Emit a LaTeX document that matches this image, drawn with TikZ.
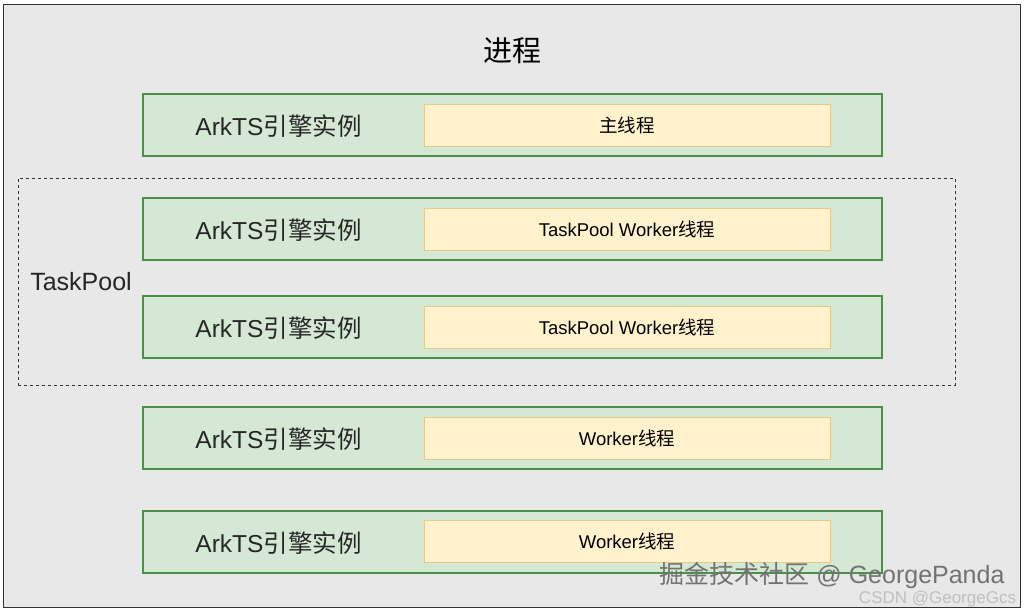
\documentclass[tikz,border=0pt]{standalone}
\usepackage{fontspec}
\setmainfont{Liberation Sans}
\newfontfamily\cjk{Noto Sans CJK SC}
\definecolor{procfill}{HTML}{E8E8E8}
\definecolor{procline}{HTML}{333333}
\definecolor{engfill}{HTML}{D5E8D4}
\definecolor{engline}{HTML}{4A9049}
\definecolor{thrfill}{HTML}{FFF2CC}
\definecolor{thrline}{HTML}{E8C98A}
\begin{document}
\begin{tikzpicture}[x=1pt, y=-1pt, inner sep=0pt,
  proc/.style = {draw=procline, fill=procfill, line width=1pt, minimum width=1017pt, minimum height=603pt},
  pool/.style = {draw=procline, dashed, line width=0.9pt, minimum width=937pt, minimum height=207pt},
  engine/.style = {draw=engline, fill=engfill, line width=1.2pt, minimum width=739pt, minimum height=62pt},
  thread/.style = {draw=thrline, fill=thrfill, line width=0.8pt, minimum width=406pt, minimum height=42pt, font=\fontsize{18.5}{20}\selectfont},
  engtext/.style = {font=\fontsize{24.5}{28}\selectfont, text=black!85}]
\useasboundingbox (0,0) rectangle (1024,611);

\node[proc] (p) at (511.5,306) {};
\node[font=\cjk\fontsize{29}{32}\selectfont] (title) at (512,51) {进程};
\node[pool] (tp) at (486.5,281.5) {};
\node[font=\fontsize{25}{28}\selectfont, text=black!85] (tplabel) at (81,282) {TaskPool};

\node[engine] (e1) at (512.5,125) {};
\node[engtext] (l1) at (278.5,126) {ArkTS{\cjk 引擎实例}};
\node[thread] (t1) at (627,125) {{\cjk 主线程}};

\node[engine] (e2) at (512.5,229) {};
\node[engtext] (l2) at (278.5,230) {ArkTS{\cjk 引擎实例}};
\node[thread] (t2) at (627,229) {TaskPool Worker{\cjk 线程}};

\node[engine] (e3) at (512.5,327) {};
\node[engtext] (l3) at (278.5,328) {ArkTS{\cjk 引擎实例}};
\node[thread] (t3) at (627,327) {TaskPool Worker{\cjk 线程}};

\node[engine] (e4) at (512.5,438) {};
\node[engtext] (l4) at (278.5,439) {ArkTS{\cjk 引擎实例}};
\node[thread] (t4) at (627,438) {Worker{\cjk 线程}};

\node[engine] (e5) at (512.5,542) {};
\node[engtext] (l5) at (278.5,543) {ArkTS{\cjk 引擎实例}};
\node[thread] (t5) at (627,541) {Worker{\cjk 线程}};

% watermarks
\node[font=\fontsize{25}{28}\selectfont, text=black!55] (wm1) at (832,575.5) {{\cjk 掘金技术社区} @ GeorgePanda};
\node[font=\fontsize{17}{19}\selectfont, text=black!25] (wm2) at (937.5,599) {CSDN @GeorgeGcs};
\end{tikzpicture}
\end{document}
